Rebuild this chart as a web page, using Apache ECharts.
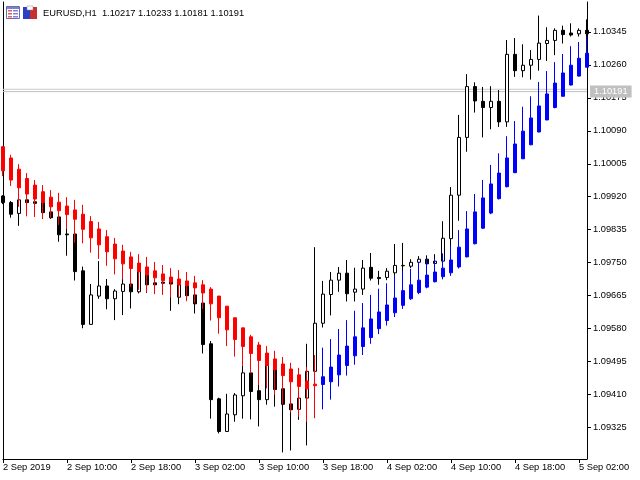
<!DOCTYPE html>
<html>
<head>
<meta charset="utf-8">
<script src="https://cdn.jsdelivr.net/npm/echarts@6/dist/echarts.min.js"></script>
<style>html,body{margin:0;padding:0;background:#fff;}#c{width:640px;height:480px;}</style>
</head>
<body>
<div id="c"></div>
<script>
const categories = [
"2 Sep 02:00","2 Sep 03:00","2 Sep 04:00","2 Sep 05:00","2 Sep 06:00","2 Sep 07:00","2 Sep 08:00","2 Sep 09:00","2 Sep 10:00","2 Sep 11:00",
"2 Sep 12:00","2 Sep 13:00","2 Sep 14:00","2 Sep 15:00","2 Sep 16:00","2 Sep 17:00","2 Sep 18:00","2 Sep 19:00","2 Sep 20:00","2 Sep 21:00",
"2 Sep 22:00","2 Sep 23:00","3 Sep 00:00","3 Sep 01:00","3 Sep 02:00","3 Sep 03:00","3 Sep 04:00","3 Sep 05:00","3 Sep 06:00","3 Sep 07:00",
"3 Sep 08:00","3 Sep 09:00","3 Sep 10:00","3 Sep 11:00","3 Sep 12:00","3 Sep 13:00","3 Sep 14:00","3 Sep 15:00","3 Sep 16:00","3 Sep 17:00",
"3 Sep 18:00","3 Sep 19:00","3 Sep 20:00","3 Sep 21:00","3 Sep 22:00","3 Sep 23:00","4 Sep 00:00","4 Sep 01:00","4 Sep 02:00","4 Sep 03:00",
"4 Sep 04:00","4 Sep 05:00","4 Sep 06:00","4 Sep 07:00","4 Sep 08:00","4 Sep 09:00","4 Sep 10:00","4 Sep 11:00","4 Sep 12:00","4 Sep 13:00",
"4 Sep 14:00","4 Sep 15:00","4 Sep 16:00","4 Sep 17:00","4 Sep 18:00","4 Sep 19:00","4 Sep 20:00","4 Sep 21:00","4 Sep 22:00","4 Sep 23:00",
"5 Sep 00:00","5 Sep 01:00","5 Sep 02:00","5 Sep 03:00"];

const xLabelIdx  = [0, 8, 16, 24, 32, 40, 48, 56, 64, 72];
const xLabelText = ["2 Sep 2019","2 Sep 10:00","2 Sep 18:00","3 Sep 02:00","3 Sep 10:00","3 Sep 18:00","4 Sep 02:00","4 Sep 10:00","4 Sep 18:00","5 Sep 02:00"];
const yTicks = [1.09325,1.09410,1.09495,1.09580,1.09665,1.09750,1.09835,1.09920,1.10005,1.10090,1.10175,1.10260,1.10345];
const yMin = 1.09244, yMax = 1.10422;
const bidPrice = 1.10191;
const bidUpper = 1.10197;
const headerText = "EURUSD,H1  1.10217 1.10233 1.10181 1.10191";

const mainOpen = [1.09922,1.09905,1.09877,1.09912,1.09907,1.09905,1.09881,1.09868,1.09824,1.09824,
1.09729,1.09591,1.09664,1.09690,1.09657,1.09676,1.09695,1.09675,1.09718,1.09698,
1.09700,1.09701,1.09661,1.09691,1.09667,1.09646,1.09541,1.09399,1.09315,1.09358,
1.09407,1.09466,1.09420,1.09397,1.09474,1.09425,1.09386,1.09372,1.09401,1.09470,
1.09594,1.09668,1.09705,1.09723,1.09674,1.09682,1.09738,1.09712,1.09712,1.09724,
1.09742,1.09741,1.09751,1.09759,1.09748,1.09754,1.09812,1.09924,1.10073,1.10204,
1.10166,1.10150,1.10166,1.10113,1.10287,1.10245,1.10259,1.10274,1.10315,1.10323,
1.10349,1.10342,1.10340,1.10349];
const mainHigh = [1.09924,1.09909,1.09914,1.09917,1.09914,1.09912,1.09888,1.09875,1.09840,1.09839,
1.09740,1.09695,1.09754,1.09708,1.09682,1.09714,1.09705,1.09736,1.09726,1.09705,
1.09708,1.09708,1.09703,1.09698,1.09680,1.09654,1.09548,1.09402,1.09412,1.09414,
1.09484,1.09474,1.09440,1.09492,1.09484,1.09435,1.09396,1.09409,1.09541,1.09790,
1.09703,1.09726,1.09739,1.09757,1.09737,1.09757,1.09775,1.09729,1.09736,1.09798,
1.09801,1.09759,1.09767,1.09769,1.09772,1.09857,1.09945,1.10131,1.10236,1.10215,
1.10203,1.10205,1.10195,1.10324,1.10329,1.10313,1.10298,1.10387,1.10357,1.10354,
1.10361,1.10367,1.10354,1.10377];
const mainLow = [1.09901,1.09866,1.09845,1.09870,1.09899,1.09863,1.09863,1.09804,1.09768,1.09704,
1.09581,1.09590,1.09657,1.09630,1.09602,1.09615,1.09632,1.09671,1.09672,1.09687,
1.09690,1.09626,1.09643,1.09651,1.09619,1.09516,1.09348,1.09310,1.09314,1.09340,
1.09348,1.09346,1.09328,1.09384,1.09379,1.09261,1.09266,1.09345,1.09279,1.09466,
1.09583,1.09614,1.09675,1.09650,1.09650,1.09667,1.09704,1.09693,1.09705,1.09716,
1.09718,1.09736,1.09747,1.09740,1.09747,1.09749,1.09791,1.09858,1.10036,1.10137,
1.10073,1.10094,1.10100,1.10100,1.10229,1.10228,1.10222,1.10245,1.10270,1.10285,
1.10315,1.10333,1.10333,1.10329];
const mainClose = [1.09905,1.09875,1.09912,1.09905,1.09903,1.09879,1.09866,1.09822,1.09822,1.09727,
1.09591,1.09667,1.09690,1.09657,1.09677,1.09695,1.09675,1.09727,1.09693,1.09693,
1.09697,1.09695,1.09693,1.09665,1.09644,1.09539,1.09397,1.09315,1.09360,1.09409,
1.09466,1.09418,1.09397,1.09485,1.09423,1.09385,1.09371,1.09401,1.09470,1.09594,
1.09669,1.09705,1.09723,1.09670,1.09682,1.09736,1.09710,1.09709,1.09728,1.09743,
1.09743,1.09751,1.09759,1.09747,1.09754,1.09813,1.09924,1.10073,1.10204,1.10167,
1.10150,1.10166,1.10113,1.10287,1.10245,1.10259,1.10274,1.10316,1.10323,1.10349,
1.10338,1.10337,1.10349,1.10340];

const haOpen = [1.10049,1.10020,1.09991,1.09967,1.09950,1.09933,1.09919,1.09906,1.09896,1.09886,
1.09875,1.09856,1.09837,1.09817,1.09798,1.09780,1.09765,1.09749,1.09739,1.09729,
1.09721,1.09713,1.09708,1.09703,1.09698,1.09693,1.09682,1.09664,1.09638,1.09608,
1.09582,1.09559,1.09538,1.09517,1.09502,1.09489,1.09476,1.09461,1.09445,1.09437,
1.09436,1.09443,1.09461,1.09485,1.09510,1.09534,1.09557,1.09580,1.09601,1.09621,
1.09640,1.09657,1.09673,1.09687,1.09701,1.09714,1.09724,1.09739,1.09765,1.09799,
1.09839,1.09878,1.09915,1.09946,1.09982,1.10018,1.10054,1.10087,1.10118,1.10150,
1.10179,1.10208,1.10231,1.10254];
const haClose = [1.09987,1.09963,1.09943,1.09927,1.09914,1.09905,1.09894,1.09884,1.09874,1.09862,
1.09836,1.09814,1.09796,1.09778,1.09760,1.09747,1.09735,1.09727,1.09718,1.09711,
1.09704,1.09700,1.09693,1.09691,1.09685,1.09672,1.09644,1.09608,1.09577,1.09552,
1.09534,1.09516,1.09498,1.09485,1.09474,1.09459,1.09443,1.09431,1.09425,1.09433,
1.09456,1.09481,1.09512,1.09535,1.09559,1.09582,1.09605,1.09623,1.09641,1.09659,
1.09678,1.09693,1.09705,1.09718,1.09726,1.09736,1.09757,1.09790,1.09837,1.09881,
1.09917,1.09953,1.09981,1.10020,1.10056,1.10089,1.10123,1.10154,1.10185,1.10213,
1.10239,1.10259,1.10277,1.10290];
const haHigh = [1.10051,1.10028,1.10004,1.09981,1.09963,1.09950,1.09937,1.09930,1.09919,1.09912,
1.09899,1.09870,1.09855,1.09834,1.09814,1.09796,1.09778,1.09772,1.09765,1.09752,
1.09744,1.09736,1.09731,1.09726,1.09716,1.09705,1.09687,1.09664,1.09638,1.09608,
1.09582,1.09564,1.09546,1.09535,1.09523,1.09507,1.09492,1.09479,1.09481,1.09512,
1.09531,1.09553,1.09579,1.09602,1.09626,1.09646,1.09667,1.09683,1.09697,1.09716,
1.09729,1.09734,1.09752,1.09760,1.09759,1.09774,1.09794,1.09834,1.09883,1.09927,
1.09963,1.10002,1.10032,1.10076,1.10115,1.10152,1.10179,1.10216,1.10244,1.10267,
1.10288,1.10308,1.10319,1.10332];
const haLow = [1.09973,1.09948,1.09894,1.09870,1.09868,1.09863,1.09866,1.09847,1.09837,1.09801,
1.09800,1.09776,1.09760,1.09742,1.09720,1.09707,1.09688,1.09680,1.09673,1.09669,
1.09667,1.09660,1.09661,1.09651,1.09646,1.09631,1.09601,1.09567,1.09535,1.09508,
1.09484,1.09465,1.09435,1.09426,1.09409,1.09386,1.09364,1.09353,1.09340,1.09349,
1.09372,1.09397,1.09431,1.09459,1.09487,1.09512,1.09541,1.09566,1.09588,1.09610,
1.09631,1.09654,1.09669,1.09684,1.09699,1.09707,1.09716,1.09735,1.09764,1.09797,
1.09837,1.09875,1.09913,1.09944,1.09981,1.10017,1.10053,1.10086,1.10117,1.10148,
1.10178,1.10207,1.10230,1.10253];

const mainData = mainOpen.map((o, i) => [o, mainClose[i], mainLow[i], mainHigh[i]]);
const haData = haOpen.map((o, i) => [o, haClose[i], haLow[i], haHigh[i]]);
const bidLine = categories.map(() => bidPrice);
const bidLine2 = categories.map(() => bidUpper);

const FONT = 'Liberation Sans';
const FS = 9.3;

const chart = echarts.init(document.getElementById('c'), null, {renderer: 'canvas'});
chart.setOption({
  animation: false,
  backgroundColor: '#ffffff',
  grid: {left: 2, right: 53, top: 2, bottom: 21, containLabel: false},
  graphic: [
    {type: 'rect', shape: {x: 6.5, y: 6.5, width: 13, height: 12}, style: {fill: '#ffffff', stroke: '#6a6ab0', lineWidth: 1}},
    {type: 'rect', shape: {x: 7, y: 7, width: 12, height: 2}, style: {fill: '#8080d0'}},
    {type: 'rect', shape: {x: 8, y: 10, width: 4, height: 1.5}, style: {fill: '#e06060'}},
    {type: 'rect', shape: {x: 13, y: 10, width: 5, height: 1.5}, style: {fill: '#8080e0'}},
    {type: 'rect', shape: {x: 8, y: 13, width: 4, height: 1.5}, style: {fill: '#e06060'}},
    {type: 'rect', shape: {x: 13, y: 13, width: 5, height: 1.5}, style: {fill: '#8080e0'}},
    {type: 'rect', shape: {x: 8, y: 16, width: 4, height: 1.5}, style: {fill: '#e06060'}},
    {type: 'rect', shape: {x: 13, y: 16, width: 5, height: 1.5}, style: {fill: '#8080e0'}},
    {type: 'rect', shape: {x: 23, y: 7, width: 7, height: 12}, style: {fill: '#2a3fc8'}},
    {type: 'rect', shape: {x: 30, y: 7, width: 7, height: 12}, style: {fill: '#c83030'}},
    {type: 'rect', shape: {x: 27, y: 6, width: 6, height: 4}, style: {fill: '#ffffff', stroke: '#888', lineWidth: 0.5}},
    {type: 'text', x: 43, y: 13, style: {text: headerText, font: FS + 'px "' + FONT + '"', fill: '#000', verticalAlign: 'middle', align: 'left'}}
  ],
  xAxis: {
    type: 'category',
    data: categories,
    boundaryGap: false,
    axisLine: {show: true, lineStyle: {color: '#000', width: 1}},
    axisTick: {show: true, length: 4, interval: (idx) => xLabelIdx.indexOf(idx) >= 0, lineStyle: {color: '#000'}},
    axisLabel: {
      show: true, interval: (idx) => xLabelIdx.indexOf(idx) >= 0,
      formatter: (v, idx) => { const k = xLabelIdx.indexOf(idx); return k >= 0 ? xLabelText[k] : ''; },
      align: 'left', color: '#000', fontFamily: FONT, fontSize: FS, margin: 4
    },
    splitLine: {show: false}
  },
  yAxis: [{
    type: 'value', position: 'right', min: yMin, max: yMax, scale: true,
    axisLine: {show: true, lineStyle: {color: '#000', width: 1}},
    axisTick: {show: true, length: 4, customValues: yTicks, lineStyle: {color: '#000'}},
    axisLabel: {show: true, customValues: yTicks, formatter: (v) => v.toFixed(5), color: '#000', fontFamily: FONT, fontSize: FS, margin: 6},
    splitLine: {show: false}
  }, {
    type: 'value', position: 'left', min: yMin, max: yMax, scale: true,
    axisLine: {show: true, onZero: false, lineStyle: {color: '#000', width: 1}},
    axisTick: {show: false}, axisLabel: {show: false}, splitLine: {show: false}
  }],
  series: [
    {
      name: 'bid2', type: 'line', data: bidLine2, yAxisIndex: 0, z: 1, silent: true,
      showSymbol: false, symbol: 'none', lineStyle: {color: '#c8c8c8', width: 1}
    },
    {
      name: 'bid', type: 'line', data: bidLine, yAxisIndex: 0, z: 1, silent: true,
      showSymbol: false, symbol: 'none', lineStyle: {color: '#c0c0c0', width: 1},
      endLabel: {show: true, formatter: () => bidPrice.toFixed(5), color: '#ffffff', backgroundColor: '#c0c0c0',
                 padding: [2, 4, 1, 4], fontFamily: FONT, fontSize: FS, distance: 3}
    },
    {
      name: 'EURUSD', type: 'candlestick', data: mainData, barWidth: 4, clip: true, yAxisIndex: 0, z: 2,
      itemStyle: {color: '#ffffff', color0: '#000000', borderColor: '#000000', borderColor0: '#000000', borderColorDoji: '#000000', borderWidth: 1}
    },
    {
      name: 'HA', type: 'candlestick', data: haData, barWidth: 4, clip: true, yAxisIndex: 0, z: 3,
      itemStyle: {color: '#0000ff', color0: '#ff0000', borderColor: '#0000ff', borderColor0: '#ff0000', borderColorDoji: '#ff0000', borderWidth: 1}
    }
  ]
});
</script>
</body>
</html>
